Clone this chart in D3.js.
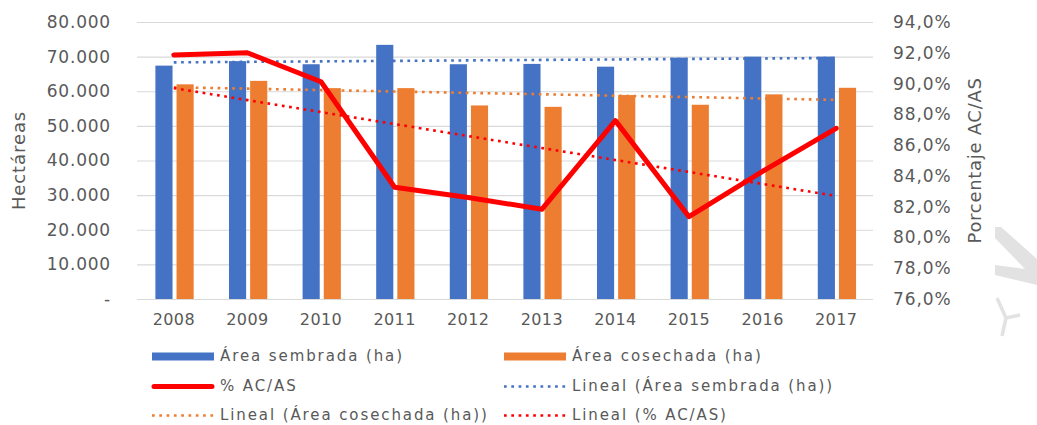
<!DOCTYPE html>
<html>
<head>
<meta charset="utf-8">
<script src="https://cdn.jsdelivr.net/npm/d3@7"></script>
<style>
  body { margin: 0; background: #fff; }
  text { font-family: "DejaVu Sans", sans-serif; fill: #595959; }
</style>
</head>
<body>
<script>
// data
const years = ["2008", "2009", "2010", "2011", "2012", "2013", "2014", "2015", "2016", "2017"];
const sembrada = [67400, 68700, 67800, 73400, 67800, 67900, 67100, 69700, 70000, 70000];
const cosechada = [62000, 63000, 60900, 60900, 55900, 55500, 58900, 56100, 59100, 61000];
const pctACAS = [0.9186, 0.920, 0.9012, 0.8326, 0.8260, 0.8183, 0.8759, 0.8135, 0.8430, 0.8709];
const leftTicks = [0, 10000, 20000, 30000, 40000, 50000, 60000, 70000, 80000];
const rightTicks = [0.76, 0.78, 0.80, 0.82, 0.84, 0.86, 0.88, 0.90, 0.92, 0.94];

const blue = "#4472c4", orange = "#ed7d31", red = "#ff0000";

const W = 1037, H = 425;
const m = { top: 22, right: 164, bottom: 126, left: 137 };
const iw = W - m.left - m.right, ih = H - m.top - m.bottom;

const locale = d3.formatLocale({ decimal: ",", thousands: ".", grouping: [3], currency: ["", ""] });
const fmtLeft = locale.format(",.3~f");
const fmtRight = locale.format(".1%");

const svg = d3.select("body").append("svg")
  .attr("width", W).attr("height", H);

const g = svg.append("g").attr("transform", `translate(${m.left},${m.top})`);

const x0 = d3.scaleBand().domain(years).range([0, iw]);
const bw = x0.bandwidth();
const x1 = d3.scaleBand().domain(["s", "c"]).range([bw * 0.25, bw * 0.77]).paddingInner(0.19);
const y = d3.scaleLinear().domain([0, 80000]).range([ih, 0]);
const y2 = d3.scaleLinear().domain([0.76, 0.94]).range([ih, 0]);

// gridlines
g.append("g")
  .call(d3.axisLeft(y).tickValues(leftTicks).tickSize(-iw).tickFormat(""))
  .call(a => a.select(".domain").remove())
  .call(a => a.selectAll("line").attr("stroke", "#d9d9d9").attr("stroke-width", 1.2));

// left axis labels
g.append("g")
  .call(d3.axisLeft(y).tickValues(leftTicks).tickSize(0).tickPadding(26)
    .tickFormat(d => d === 0 ? "-" : fmtLeft(d)))
  .call(a => a.select(".domain").remove())
  .selectAll("text")
  .style("font-size", "17px").style("letter-spacing", "0.8px").attr("fill", "#595959");

// right axis labels
g.append("g").attr("transform", `translate(${iw},0)`)
  .call(d3.axisRight(y2).tickValues(rightTicks).tickSize(0).tickPadding(20).tickFormat(fmtRight))
  .call(a => a.select(".domain").remove())
  .selectAll("text")
  .style("font-size", "17px").style("letter-spacing", "0.9px").attr("fill", "#595959");

// bottom axis labels
g.append("g").attr("transform", `translate(0,${ih})`)
  .call(d3.axisBottom(x0).tickSize(0).tickPadding(15))
  .call(a => a.select(".domain").remove())
  .selectAll("text")
  .style("font-size", "16px").style("letter-spacing", "0.4px").attr("fill", "#595959");

// bars
const groups = g.selectAll(".yr").data(years).join("g")
  .attr("transform", d => `translate(${x0(d)},0)`);
groups.append("rect")
  .attr("x", x1("s")).attr("width", x1.bandwidth())
  .attr("y", (d, i) => y(sembrada[i])).attr("height", (d, i) => ih - y(sembrada[i]))
  .attr("fill", blue);
groups.append("rect")
  .attr("x", x1("c")).attr("width", x1.bandwidth())
  .attr("y", (d, i) => y(cosechada[i])).attr("height", (d, i) => ih - y(cosechada[i]))
  .attr("fill", orange);

// linear trendlines (least squares, as the spreadsheet does)
function trend(vals) {
  const xs = vals.map((v, i) => i + 1);
  const mx = d3.mean(xs), my = d3.mean(vals);
  const b = d3.sum(xs, (xv, i) => (xv - mx) * (vals[i] - my)) / d3.sum(xs, xv => (xv - mx) ** 2);
  return xs.map(xv => my + b * (xv - mx));
}
const cx = d => x0(d) + bw / 2;
const dots = "2.7,4.6";

g.append("path").datum(trend(sembrada))
  .attr("d", d3.line().x((v, i) => cx(years[i])).y(v => y(v)))
  .attr("fill", "none").attr("stroke", blue).attr("stroke-width", 2.6).attr("stroke-dasharray", dots);
g.append("path").datum(trend(cosechada))
  .attr("d", d3.line().x((v, i) => cx(years[i])).y(v => y(v)))
  .attr("fill", "none").attr("stroke", orange).attr("stroke-width", 2.6).attr("stroke-dasharray", dots);

// % line
g.append("path").datum(pctACAS)
  .attr("d", d3.line().x((v, i) => cx(years[i])).y(v => y2(v)))
  .attr("fill", "none").attr("stroke", red).attr("stroke-width", 5)
  .attr("stroke-linejoin", "round").attr("stroke-linecap", "round");

g.append("path").datum(trend(pctACAS))
  .attr("d", d3.line().x((v, i) => cx(years[i])).y(v => y2(v)))
  .attr("fill", "none").attr("stroke", red).attr("stroke-width", 2.6).attr("stroke-dasharray", dots);

// axis titles
svg.append("text")
  .attr("transform", `translate(19,${m.top + ih / 2}) rotate(-90)`)
  .attr("text-anchor", "middle").attr("dy", "0.35em")
  .style("font-size", "18px").style("letter-spacing", "0.9px")
  .text("Hectáreas");
svg.append("text")
  .attr("transform", `translate(975,${m.top + ih / 2}) rotate(-90)`)
  .attr("text-anchor", "middle").attr("dy", "0.35em")
  .style("font-size", "18px").style("letter-spacing", "0.7px")
  .text("Porcentaje AC/AS");

// legend
const legend = [
  { label: "Área sembrada (ha)", type: "bar", color: blue, col: 0, row: 0 },
  { label: "Área cosechada (ha)", type: "bar", color: orange, col: 1, row: 0 },
  { label: "% AC/AS", type: "line", color: red, col: 0, row: 1 },
  { label: "Lineal (Área sembrada (ha))", type: "dot", color: blue, col: 1, row: 1 },
  { label: "Lineal (Área cosechada (ha))", type: "dot", color: orange, col: 0, row: 2 },
  { label: "Lineal (% AC/AS)", type: "dot", color: red, col: 1, row: 2 }
];
const lg = svg.append("g");
const colX = [152, 504], rowY = [356.5, 386.5, 415.5];
legend.forEach(d => {
  const lx = colX[d.col], ly = rowY[d.row];
  if (d.type === "bar") {
    lg.append("rect").attr("x", lx).attr("y", ly - 4).attr("width", 62).attr("height", 8).attr("fill", d.color);
  } else if (d.type === "line") {
    lg.append("line").attr("x1", lx + 2).attr("x2", lx + 60).attr("y1", ly).attr("y2", ly)
      .attr("stroke", d.color).attr("stroke-width", 5).attr("stroke-linecap", "round");
  } else {
    lg.append("line").attr("x1", lx).attr("x2", lx + 62).attr("y1", ly).attr("y2", ly)
      .attr("stroke", d.color).attr("stroke-width", 2.6).attr("stroke-dasharray", dots);
  }
  lg.append("text").attr("x", lx + 68).attr("y", ly).attr("dy", "0.33em")
    .style("font-size", "15px").style("letter-spacing", "1.9px")
    .text(d.label);
});

// faint watermark fragment at the right edge
const wm = svg.append("g");
wm.append("path")
  .attr("d", "M995,227 L1001,227 L1037,259 L1037,285 L995,275 L995,265 L1025,269 L995,238 Z")
  .attr("fill", "#e2e2e2");
wm.append("path")
  .attr("d", "M997,298 L1006,318 L1020,315 M1006,318 L1002,336")
  .attr("fill", "none").attr("stroke", "#e2e2e2").attr("stroke-width", 3.5);
</script>
</body>
</html>
